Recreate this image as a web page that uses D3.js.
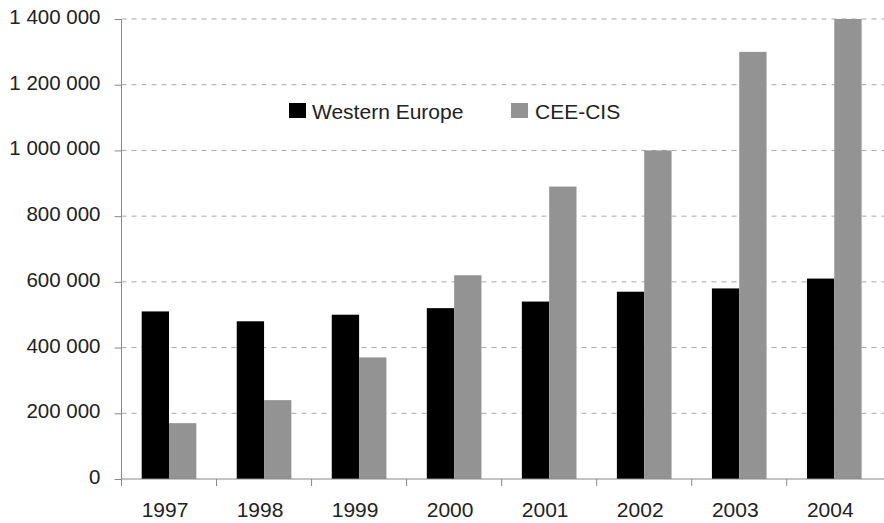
<!DOCTYPE html>
<html>
<head>
<meta charset="utf-8">
<script src="https://cdn.jsdelivr.net/npm/d3@7"></script>
<style>
  html, body { margin: 0; padding: 0; background: #fff; }
  svg { display: block; font-family: "Liberation Sans", Arial, Helvetica, sans-serif; }
</style>
</head>
<body>
<svg id="chart" width="884" height="523"></svg>
<script>
// Annual values by region
const years = ["1997", "1998", "1999", "2000", "2001", "2002", "2003", "2004"];
const westernEurope = [510000, 480000, 500000, 520000, 540000, 570000, 580000, 610000];
const ceeCis = [170000, 240000, 370000, 620000, 890000, 1000000, 1300000, 1400000];
const seriesNames = ["Western Europe", "CEE-CIS"];
const yTicks = [0, 200000, 400000, 600000, 800000, 1000000, 1200000, 1400000];

const colors = { "Western Europe": "#000000", "CEE-CIS": "#939393" };

const svg = d3.select("#chart");
const W = 884, H = 523;
const plotLeft = 121.5, plotRight = 881.8, plotTop = 19, plotBottom = 479;

const x = d3.scaleBand().domain(years).range([plotLeft, plotRight]).padding(0);
const inner = d3.scaleBand().domain(seriesNames)
  .range([x.bandwidth() * 0.2125, x.bandwidth() * 0.7875]).padding(0);
const y = d3.scaleLinear().domain([0, 1400000]).range([plotBottom, plotTop]);

const fmt = v => d3.format(",")(v).replace(/,/g, " ");

// dashed horizontal gridlines
svg.append("g")
  .selectAll("line")
  .data(yTicks.filter(d => d > 0))
  .join("line")
  .attr("x1", plotLeft).attr("x2", W)
  .attr("y1", d => y(d)).attr("y2", d => y(d))
  .attr("stroke", "#a8a8a8")
  .attr("stroke-width", 1)
  .attr("stroke-dasharray", "5,5");

// bars
const rows = years.map((yr, i) => ({
  year: yr,
  values: [
    { name: "Western Europe", value: westernEurope[i] },
    { name: "CEE-CIS", value: ceeCis[i] }
  ]
}));

svg.append("g")
  .selectAll("g")
  .data(rows)
  .join("g")
  .attr("transform", d => `translate(${x(d.year)},0)`)
  .selectAll("rect")
  .data(d => d.values)
  .join("rect")
  .attr("x", d => inner(d.name))
  .attr("width", inner.bandwidth())
  .attr("y", d => y(d.value))
  .attr("height", d => y(0) - y(d.value))
  .attr("fill", d => colors[d.name]);

// y axis
const yAxis = svg.append("g")
  .attr("transform", `translate(${plotLeft},0)`)
  .call(d3.axisLeft(y).tickValues(yTicks).tickFormat(fmt).tickSize(7).tickPadding(14));
yAxis.select(".domain").attr("stroke", "#888").attr("d", `M-0,${plotTop}V${plotBottom}`);
yAxis.selectAll(".tick line").attr("stroke", "#888");
yAxis.selectAll(".tick text")
  .attr("fill", "#222")
  .attr("font-size", 20.5)
  .attr("dy", "0.22em");

// x axis with ticks at band boundaries
const xAxis = svg.append("g").attr("transform", `translate(0,${plotBottom})`);
xAxis.append("line")
  .attr("x1", plotLeft).attr("x2", W)
  .attr("y1", 0).attr("y2", 0)
  .attr("stroke", "#888");
xAxis.selectAll("line.tk")
  .data(years)
  .join("line")
  .attr("class", "tk")
  .attr("x1", d => x(d)).attr("x2", d => x(d))
  .attr("y1", 0).attr("y2", 7)
  .attr("stroke", "#888");
xAxis.selectAll("text")
  .data(years)
  .join("text")
  .attr("x", d => x(d) + x.bandwidth() / 2 - 4)
  .attr("y", 37.5)
  .attr("text-anchor", "middle")
  .attr("fill", "#222")
  .attr("font-size", 21)
  .text(d => d);

// legend
const legendPos = [{ sx: 289, tx: 312 }, { sx: 511, tx: 535 }];
const legend = svg.append("g").selectAll("g")
  .data(seriesNames)
  .join("g");
legend.append("rect")
  .attr("x", (d, i) => legendPos[i].sx)
  .attr("y", 103)
  .attr("width", 17).attr("height", 15)
  .attr("fill", d => colors[d]);
legend.append("text")
  .attr("x", (d, i) => legendPos[i].tx)
  .attr("y", 119)
  .attr("fill", "#222")
  .attr("font-size", 21)
  .text(d => d);
</script>
</body>
</html>
